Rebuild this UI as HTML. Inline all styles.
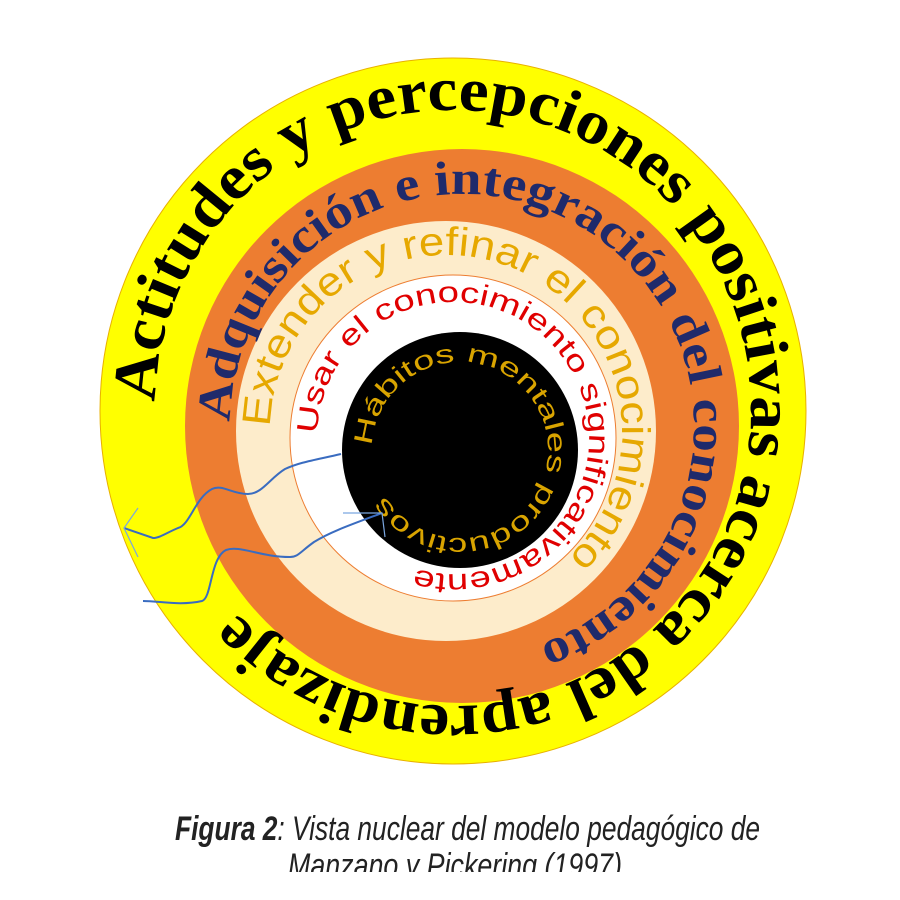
<!DOCTYPE html>
<html><head><meta charset="utf-8"><style>
html,body{margin:0;padding:0;background:#fff;width:900px;height:900px;overflow:hidden}
</style></head><body>
<svg width="900" height="900" viewBox="0 0 900 900" xmlns="http://www.w3.org/2000/svg">
<defs>
<path id="p1" d="M155,408 A298,298 0 1 1 751,408 A298,298 0 1 1 155,408"/>
<path id="p2" d="M230,426 A232,232 0 1 1 694,426 A232,232 0 1 1 230,426"/>
<path id="p3" d="M270,431 A176,176 0 1 1 622,431 A176,176 0 1 1 270,431"/>
<path id="p4" d="M317,438 A136,136 0 1 1 589,438 A136,136 0 1 1 317,438"/>
<path id="p5" d="M372,450 A88,88 0 1 1 548,450 A88,88 0 1 1 372,450"/>
</defs>
<circle cx="453" cy="411" r="353" fill="#ffff00" stroke="#e8b000" stroke-width="1"/>
<circle cx="462" cy="426" r="277" fill="#ed7d31"/>
<circle cx="446" cy="431" r="210" fill="#fdeccb"/>
<circle cx="453" cy="438" r="163" fill="#ffffff" stroke="#ed7d31" stroke-width="1"/>
<circle cx="460" cy="450" r="118" fill="#000"/>

<text font-family="Liberation Serif, serif" font-weight="bold" font-size="62" fill="#000"><textPath href="#p1" startOffset="6" textLength="1640" lengthAdjust="spacingAndGlyphs">Actitudes y percepciones positivas acerca del aprendizaje</textPath></text>
<text font-family="Liberation Serif, serif" font-weight="bold" font-size="48" fill="#1f2a6b"><textPath href="#p2" startOffset="4" textLength="1010" lengthAdjust="spacingAndGlyphs">Adquisición e integración del conocimiento</textPath></text>
<text font-family="Liberation Sans, sans-serif" font-size="40" fill="#e6a800"><textPath href="#p3" startOffset="4" textLength="690" lengthAdjust="spacingAndGlyphs">Extender y refinar el conocimiento</textPath></text>
<text font-family="Liberation Sans, sans-serif" font-size="29" fill="#e00000"><textPath href="#p4" startOffset="4" textLength="675" lengthAdjust="spacingAndGlyphs">Usar el conocimiento significativamente</textPath></text>
<text font-family="Liberation Sans, sans-serif" font-size="26" fill="#d9a400"><textPath href="#p5" startOffset="4" textLength="500" lengthAdjust="spacingAndGlyphs">Hábitos mentales productivos</textPath></text>

<g fill="none" stroke="#3a6cc0" stroke-width="2">
<path d="M341,454 C315,460 300,462 285,469 C270,478 262,494 248,494 C232,494 222,484 212,489 C195,498 190,525 178,528 C168,532 160,538 153,538 L124,528"/>
<path d="M382,513 C350,525 330,532 314,542 C300,552 298,557 290,557 C260,557 240,545 226,550 C210,558 212,598 202,601 C180,606 160,601 143,601"/>
</g>
<g fill="none" stroke="#7aa6e0" stroke-width="1.2">
<path d="M138,508 L124,528 L138,557"/>
<path d="M343,513 L382,513 L385,537"/>
</g>

<text x="175" y="840" font-family="Liberation Sans, sans-serif" font-style="italic" font-size="34" fill="#222" textLength="585" lengthAdjust="spacingAndGlyphs"><tspan font-weight="bold">Figura 2</tspan>: Vista nuclear del modelo pedagógico de</text>
<text x="288" y="877" font-family="Liberation Sans, sans-serif" font-style="italic" font-size="34" fill="#222" textLength="334" lengthAdjust="spacingAndGlyphs">Manzano y Pickering (1997)</text>
<rect x="0" y="872" width="900" height="28" fill="#fff"/>
</svg>
</body></html>
